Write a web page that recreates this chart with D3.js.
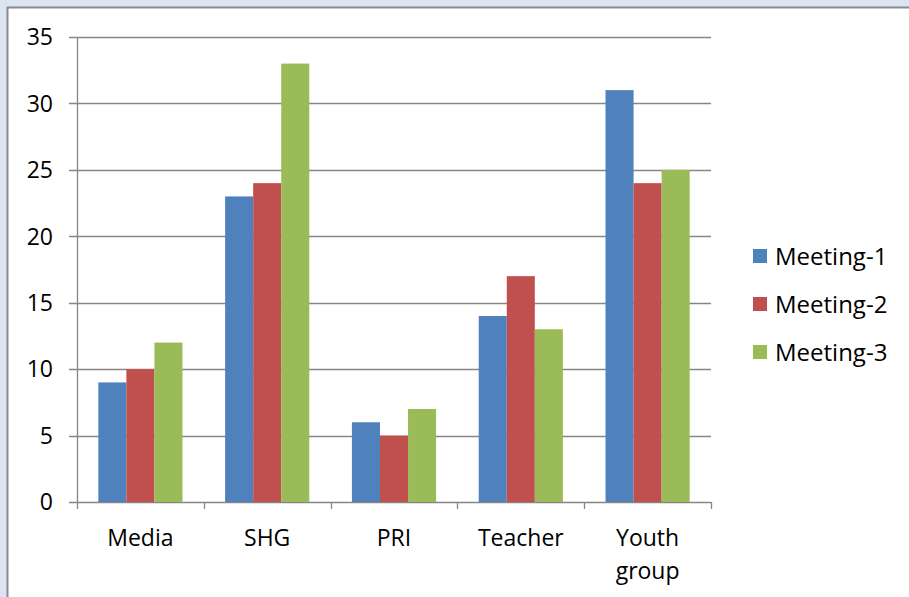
<!DOCTYPE html>
<html>
<head>
<meta charset="utf-8">
<script src="https://cdn.jsdelivr.net/npm/d3@7"></script>
<style>
  body { margin: 0; background: #dbe5f1; }
  svg { display: block; }
  text { font-family: "Open Sans", sans-serif; fill: #000; }
</style>
</head>
<body>
<script>
// chart data
var categories = ["Media", "SHG", "PRI", "Teacher", "Youth group"];
var seriesNames = ["Meeting-1", "Meeting-2", "Meeting-3"];
var meeting1 = [9, 23, 6, 14, 31];
var meeting2 = [10, 24, 5, 17, 24];
var meeting3 = [12, 33, 7, 13, 25];
var yTicks = [0, 5, 10, 15, 20, 25, 30, 35];
var colors = ["#4f81bd", "#c0504d", "#9bbb59"];

var seriesValues = [meeting1, meeting2, meeting3];

var W = 909, H = 597;
var margin = {top: 37, left: 77, right: 198, bottom: 95};
var width = W - margin.left - margin.right,
    height = H - margin.top - margin.bottom;

var svg = d3.select("body").append("svg")
    .attr("width", W)
    .attr("height", H);

// white panel with grey border
svg.append("rect")
    .attr("x", 7.5).attr("y", 7.5)
    .attr("width", W + 10).attr("height", H + 10)
    .attr("fill", "#fff")
    .attr("stroke", "#8a8a8a")
    .attr("stroke-width", 2);

var g = svg.append("g")
    .attr("transform", "translate(" + margin.left + "," + margin.top + ")");

var x0 = d3.scaleBand()
    .domain(categories)
    .range([0, width])
    .padding(0);

var x1 = d3.scaleBand()
    .domain(seriesNames)
    .range([0, x0.bandwidth()])
    .paddingInner(0)
    .paddingOuter(0.76);

var y = d3.scaleLinear()
    .domain([0, 35])
    .range([height, 0]);

// gridlines
g.selectAll(".grid")
    .data(yTicks)
    .enter().append("line")
    .attr("x1", -8)
    .attr("x2", width)
    .attr("y1", function(d) { return Math.round(y(d)) + 0.5; })
    .attr("y2", function(d) { return Math.round(y(d)) + 0.5; })
    .attr("stroke", "#868686")
    .attr("stroke-width", 1.3);

// y labels
g.selectAll(".ylab")
    .data(yTicks)
    .enter().append("text")
    .attr("x", -24)
    .attr("y", function(d) { return y(d); })
    .attr("dy", "0.36em")
    .attr("text-anchor", "end")
    .style("font-size", "23px")
    .text(function(d) { return d; });

// bars
var groups = g.selectAll(".cat")
    .data(categories)
    .enter().append("g")
    .attr("transform", function(d) { return "translate(" + x0(d) + ",0)"; });

groups.selectAll("rect")
    .data(function(d, i) {
        return seriesNames.map(function(s, j) { return {s: s, v: seriesValues[j][i], c: colors[j]}; });
    })
    .enter().append("rect")
    .attr("x", function(d) { return x1(d.s); })
    .attr("width", x1.bandwidth())
    .attr("y", function(d) { return y(d.v); })
    .attr("height", function(d) { return height - y(d.v); })
    .attr("fill", function(d) { return d.c; });

// axes lines
g.append("line")
    .attr("x1", 0.5).attr("x2", 0.5)
    .attr("y1", 0).attr("y2", height)
    .attr("stroke", "#868686").attr("stroke-width", 1.3);

var tickPos = categories.map(function(d) { return x0(d); }).concat([width]);
g.selectAll(".xtick")
    .data(tickPos)
    .enter().append("line")
    .attr("x1", function(d) { return Math.round(d) + 0.5; })
    .attr("x2", function(d) { return Math.round(d) + 0.5; })
    .attr("y1", height)
    .attr("y2", height + 7)
    .attr("stroke", "#868686").attr("stroke-width", 1.3);

// category labels
g.selectAll(".xlab")
    .data(categories)
    .enter().append("text")
    .attr("x", function(d) { return x0(d) + x0.bandwidth() / 2; })
    .attr("y", height + 44)
    .attr("text-anchor", "middle")
    .style("font-size", "23px")
    .each(function(d) {
        var words = d.split(" ");
        var t = d3.select(this);
        words.forEach(function(w, i) {
            t.append("tspan")
                .attr("x", x0(d) + x0.bandwidth() / 2)
                .attr("dy", i === 0 ? 0 : 33)
                .text(w);
        });
    });

// legend
var legend = svg.selectAll(".legend")
    .data(seriesNames)
    .enter().append("g")
    .attr("transform", function(d, i) { return "translate(753," + (249 + i * 48) + ")"; });

legend.append("rect")
    .attr("width", 14).attr("height", 14)
    .attr("fill", function(d, i) { return colors[i]; });

legend.append("text")
    .attr("x", 22)
    .attr("y", 7)
    .attr("dy", "0.36em")
    .style("font-size", "24px")
    .text(function(d) { return d; });
</script>
</body>
</html>
